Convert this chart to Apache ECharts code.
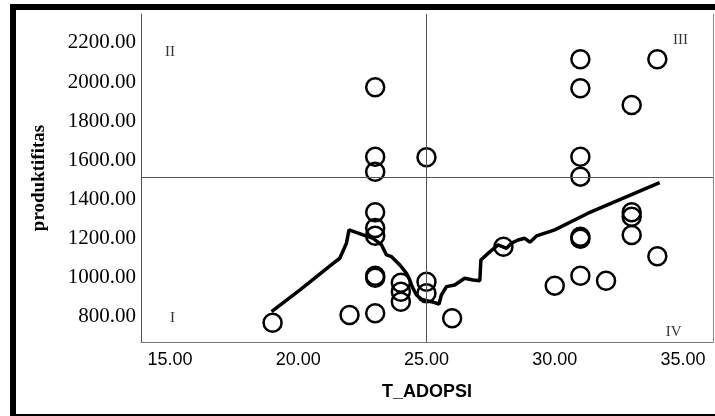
<!DOCTYPE html>
<html>
<head>
<meta charset="utf-8">
<script src="https://cdn.jsdelivr.net/npm/echarts@6/dist/echarts.min.js"></script>
<style>
  html, body { margin: 0; padding: 0; background: #fff; }
  #chart { width: 715px; height: 416px; position: relative; }
  .frame {
    position: absolute; left: 10px; top: 4px; right: 0; bottom: 0;
    border-left: 6px solid #000; border-top: 6px solid #000; border-bottom: 2px solid #000;
    pointer-events: none;
  }
</style>
</head>
<body>
<div id="chart"></div>
<div class="frame"></div>
<script>
// observed cases (T_ADOPSI, produktifitas)
const adopsi = [19, 22, 23, 23, 23, 23, 23, 23, 23, 23, 23, 24, 24, 24, 25, 25, 25, 26, 28, 30,
  31, 31, 31, 31, 31, 31, 31, 32, 33, 33, 33, 33, 34, 34];
const produktifitas = [770, 810, 819, 1000, 1010, 1215, 1255, 1335, 1542, 1619, 1974, 878, 929, 975, 921, 980, 1616, 793, 1159, 960,
  1010, 1200, 1210, 1517, 1619, 1969, 2117, 985, 1219, 1312, 1335, 1883, 1110, 2117];

// fit line
const fitX = [18.96, 20.07, 21.36, 21.62, 21.88, 21.98, 22.01, 22.53, 22.92, 23.25, 23.44, 23.64, 23.96, 24.22, 24.35, 24.44,
  24.61, 24.81, 25.19, 25.49, 25.58, 25.78, 26.1, 26.49, 26.82, 27.08, 27.12, 27.4, 27.79, 28.12, 28.31, 28.57, 28.83,
  29.03, 29.29, 30.0, 31.3, 34.09];
const fitY = [827, 938, 1074, 1100, 1177, 1245, 1245, 1219, 1202, 1168, 1117, 1108, 1066, 1023, 989, 955,
  912, 890, 878, 866, 912, 955, 963, 998, 989, 985, 1091, 1125, 1168, 1151, 1177, 1193, 1202,
  1182, 1214, 1245, 1330, 1486];

const meanX = 25;
const meanY = 1515;

const xTicks = [15, 20, 25, 30, 35];
const yTicks = [800, 1000, 1200, 1400, 1600, 1800, 2000, 2200];

const quadNames = ['I', 'II', 'III', 'IV'];
const quadX = [15.1, 15.0, 34.9, 34.64];
const quadY = [795, 2154, 2215, 723];

const chart = echarts.init(document.getElementById('chart'));

const option = {
  backgroundColor: '#fff',
  animation: false,
  grid: { left: 141, right: 2, top: 14, bottom: 74 },
  xAxis: {
    type: 'value',
    min: 13.87,
    max: 36.17,
    name: 'T_ADOPSI',
    nameLocation: 'middle',
    nameGap: 41,
    nameTextStyle: { fontFamily: 'Liberation Sans', fontWeight: 'bold', fontSize: 18, color: '#000' },
    axisLine: { show: true, lineStyle: { color: '#777', width: 1 } },
    axisTick: { show: false },
    splitLine: { show: false },
    axisLabel: {
      customValues: xTicks,
      margin: 9,
      fontFamily: 'Liberation Sans',
      fontSize: 18,
      color: '#000',
      formatter: v => v.toFixed(2)
    }
  },
  yAxis: [{
    type: 'value',
    min: 672,
    max: 2348,
    name: 'produktifitas',
    nameLocation: 'middle',
    nameGap: 92,
    nameTextStyle: { fontFamily: 'Liberation Serif', fontWeight: 'bold', fontSize: 19, color: '#000' },
    axisLine: { show: true, lineStyle: { color: '#555', width: 1 } },
    axisTick: { show: false },
    splitLine: { show: false },
    axisLabel: {
      customValues: yTicks,
      margin: 5,
      fontFamily: 'Liberation Serif',
      fontSize: 21,
      color: '#000',
      formatter: v => v.toFixed(2)
    }
  }, {
    type: 'value',
    position: 'right',
    min: 672,
    max: 2348,
    axisLine: { show: true, lineStyle: { color: '#888', width: 1 } },
    axisTick: { show: false },
    axisLabel: { show: false },
    splitLine: { show: false }
  }],
  series: [
    {
      type: 'line',
      data: fitX.map((x, i) => [x, fitY[i]]),
      showSymbol: false,
      smooth: false,
      lineStyle: { color: '#000', width: 3.5 },
      z: 3,
      markLine: {
        silent: true,
        symbol: 'none',
        label: { show: false },
        lineStyle: { color: '#555', width: 1, type: 'solid' },
        data: [{ xAxis: meanX }, { yAxis: meanY }]
      }
    },
    {
      type: 'scatter',
      data: adopsi.map((x, i) => [x, produktifitas[i]]),
      symbol: 'circle',
      symbolSize: 18,
      itemStyle: { color: 'rgba(0,0,0,0)', borderColor: '#000', borderWidth: 2.5, opacity: 1 },
      z: 4
    },
    {
      type: 'scatter',
      data: quadNames.map((n, i) => [quadX[i], quadY[i], n]),
      symbolSize: 0,
      silent: true,
      label: {
        show: true,
        position: 'inside',
        formatter: p => p.value[2],
        fontFamily: 'Liberation Serif',
        fontSize: 15,
        color: '#000'
      },
      z: 5
    }
  ]
};

chart.setOption(option);
</script>
</body>
</html>
